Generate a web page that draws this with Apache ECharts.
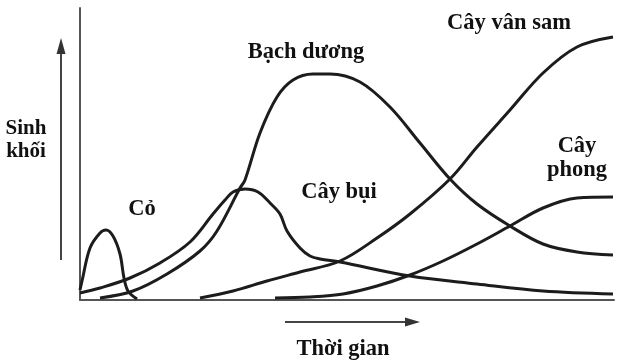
<!DOCTYPE html>
<html>
<head>
<meta charset="utf-8">
<script src="https://cdn.jsdelivr.net/npm/echarts@6/dist/echarts.min.js"></script>
<style>
html,body{margin:0;padding:0;background:#fff;}
#c{width:630px;height:362px;}
</style>
</head>
<body>
<div id="c"></div>
<script>
// Arbitrary units: x = time, y = biomass
var co = [[0,10],[2,19],[10,52],[20,67],[26,70],[33,64],[40,46],[44,22],[48,9],[57,1]];
var cayBui = [[0,7],[20,12],[50,22],[80,37],[110,58],[133,86],[145,100],[153,108],[165,111],[178,108],[190,97],[200,86],[207,69],[220,52],[230,44],[240,41],[260,38],[330,24],[397,16],[463,9],[533,6]];
var bachDuong = [[20,2],[53,9],[87,26],[120,49],[137,69],[160,112],[165,120],[180,167],[197,203],[213,220],[233,226],[250,226],[280,218],[310,193],[340,157],[370,121],[397,96],[430,74],[463,56],[497,48],[533,45]];
var vanSam = [[120,2],[153,9],[187,19],[220,28],[260,39],[297,62],[330,86],[370,121],[397,153],[430,190],[463,227],[497,253],[533,263]];
var phong = [[195,2],[230,3],[263,6],[297,14],[330,25],[363,39],[397,56],[430,74],[463,92],[497,102],[533,103]];
var seriesNames = ['Cỏ','Cây bụi','Bạch dương','Cây vân sam','Cây phong'];
var seriesData = [co, cayBui, bachDuong, vanSam, phong];

var FONT = '"Liberation Serif","Times New Roman",serif';
function label(text, x, y, size){
  return {type:'text', x:x, y:y, style:{text:text, x:0, y:0, fill:'#111', font:'bold '+(size||22)+'px '+FONT, align:'center', verticalAlign:'middle'}};
}

var chart = echarts.init(document.getElementById('c'), null, {renderer:'canvas'});
var series = seriesData.map(function(d,i){
  return {name:seriesNames[i], type:'line', data:d, smooth:0.35, showSymbol:false, clip:false,
    lineStyle:{color:'#1c1c1c', width:3}, silent:true, animation:false};
});
chart.setOption({
  animation:false,
  backgroundColor:'#fff',
  grid:{left:80, right:16, top:8, bottom:62},
  xAxis:{type:'value', min:0, max:534, axisLine:{show:true, lineStyle:{color:'#555', width:2}}, axisTick:{show:false}, axisLabel:{show:false}, splitLine:{show:false}},
  yAxis:{type:'value', min:0, max:292, axisLine:{show:true, lineStyle:{color:'#555', width:2}}, axisTick:{show:false}, axisLabel:{show:false}, splitLine:{show:false}},
  series: series,
  graphic:[
    {type:'line', shape:{x1:61,y1:260,x2:61,y2:50}, style:{stroke:'#444', lineWidth:2}},
    {type:'polygon', shape:{points:[[61,38],[56.5,54],[65.5,54]]}, style:{fill:'#333'}},
    {type:'line', shape:{x1:285,y1:322,x2:410,y2:322}, style:{stroke:'#444', lineWidth:2}},
    {type:'polygon', shape:{points:[[420,322],[405,317.5],[405,326.5]]}, style:{fill:'#333'}},
    label('Sinh', 26, 129, 21),
    label('khối', 26, 152, 21),
    label('Bạch dương', 306, 52, 22.5),
    label('Cây vân sam', 509, 23, 22.5),
    label('Cây', 577, 146, 22.5),
    label('phong', 577, 170, 22.5),
    label('Cỏ', 142, 209, 22.5),
    label('Cây bụi', 339, 192, 22.5),
    label('Thời gian', 343, 349, 22.5)
  ]
});
</script>
</body>
</html>
